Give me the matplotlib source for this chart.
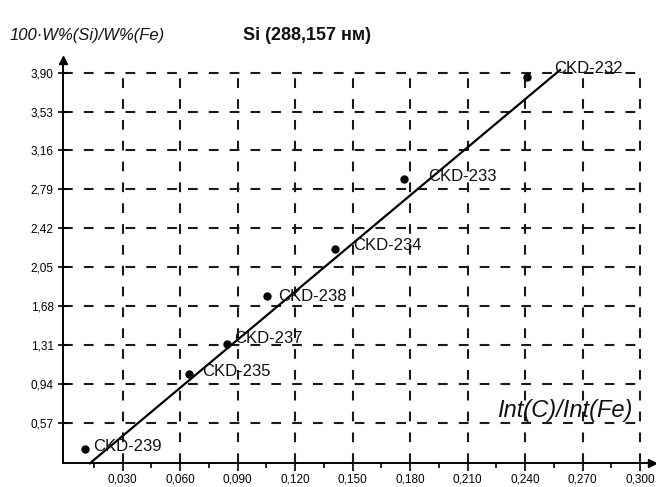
import matplotlib
matplotlib.use("Agg")
import matplotlib.pyplot as plt
import numpy as np

plt.rcParams['font.family'] = ['Liberation Sans', 'DejaVu Sans']

# Calibration samples: Int(C)/Int(Fe) vs 100·W%(Si)/W%(Fe)
samples = ["CKD-232", "CKD-233", "CKD-234", "CKD-238", "CKD-237", "CKD-235", "CKD-239"]
int_ratio = [0.2409, 0.1769, 0.1409, 0.1056, 0.0844, 0.0649, 0.0104]
conc_ratio = [3.862, 2.886, 2.220, 1.775, 1.319, 1.033, 0.317]

# Calibration line end points
line_x = [0.0130, 0.2583]
line_y = [0.184, 3.926]

# Axis ticks
y_ticks = [0.57, 0.94, 1.31, 1.68, 2.05, 2.42, 2.79, 3.16, 3.53, 3.90]
y_tick_labels = ["0,57", "0,94", "1,31", "1,68", "2,05", "2,42", "2,79", "3,16", "3,53", "3,90"]
x_ticks = [0.030, 0.060, 0.090, 0.120, 0.150, 0.180, 0.210, 0.240, 0.270, 0.300]
x_tick_labels = ["0,030", "0,060", "0,090", "0,120", "0,150", "0,180", "0,210", "0,240", "0,270", "0,300"]
x_minor = [0.015, 0.045, 0.075, 0.105, 0.135, 0.165, 0.195, 0.225, 0.255, 0.285]

# Label offsets in points (dx, dy) from each sample point
label_offsets = [(20, 6), (17, 2), (13, 3), (8, 0), (5, 4), (9, 2), (6, 2)]

XMIN, XMAX = -0.0012, 0.306
YMIN, YMAX = 0.184, 4.02

fig = plt.figure(figsize=(6.56, 4.87), dpi=100)
ax = fig.add_axes([0.0956, 0.0487, 0.8976, 0.828])
ax.set_xlim(XMIN, XMAX)
ax.set_ylim(YMIN, YMAX)

# dashed grid, limited to the last tick on each axis
lw_grid = 1.5
dash = (0, (7.0 / lw_grid, 8.0 / lw_grid))
ax.hlines(y_ticks, XMIN, x_ticks[-1], colors='#1a1a1a', linewidth=lw_grid,
          linestyles=[dash], zorder=1)
ax.vlines(x_ticks, YMIN, y_ticks[-1], colors='#1a1a1a', linewidth=lw_grid,
          linestyles=[dash], zorder=1)

# calibration line and samples
ax.plot(line_x, line_y, color='black', linewidth=1.6, zorder=3, clip_on=False)
ax.plot(int_ratio, conc_ratio, 'o', color='black', markersize=5, zorder=4)
for name, x, y, (dx, dy) in zip(samples, int_ratio, conc_ratio, label_offsets):
    ax.annotate(name, (x, y), xytext=(dx, dy), textcoords='offset points',
                ha='left', va='center', fontsize=12, color='#111111', zorder=5)

# spines with arrow heads
for s in ('top', 'right'):
    ax.spines[s].set_visible(False)
for s in ('left', 'bottom'):
    ax.spines[s].set_linewidth(1.4)
ax.plot(1, 0, '>', color='black', markersize=6, transform=ax.transAxes, clip_on=False)
ax.plot(0, 1, '^', color='black', markersize=6, transform=ax.transAxes, clip_on=False)

ax.set_yticks(y_ticks)
ax.set_yticklabels(y_tick_labels, fontsize=8.5)
ax.set_xticks(x_ticks)
ax.set_xticklabels(x_tick_labels, fontsize=8.5)
ax.set_xticks(x_minor, minor=True)
ax.tick_params(axis='y', direction='inout', length=7, width=1.2, pad=3)
ax.tick_params(axis='x', which='major', direction='out', length=6, width=1.2, pad=1.5)
ax.tick_params(axis='x', which='minor', direction='out', length=3.5, width=1.2)

ax.text(0.967, 0.132, "Int(C)/Int(Fe)", transform=ax.transAxes, ha='right',
        va='center', fontsize=17, fontstyle='italic', color='#111111')

fig.text(0.015, 0.928, "100·W%(Si)/W%(Fe)", ha='left', va='center',
         fontsize=12, fontstyle='italic', color='#111111')
fig.text(0.468, 0.928, "Si (288,157 нм)", ha='center', va='center',
         fontsize=13, fontweight='bold', color='#111111')

fig.savefig("out.png", dpi=100, facecolor='white')
